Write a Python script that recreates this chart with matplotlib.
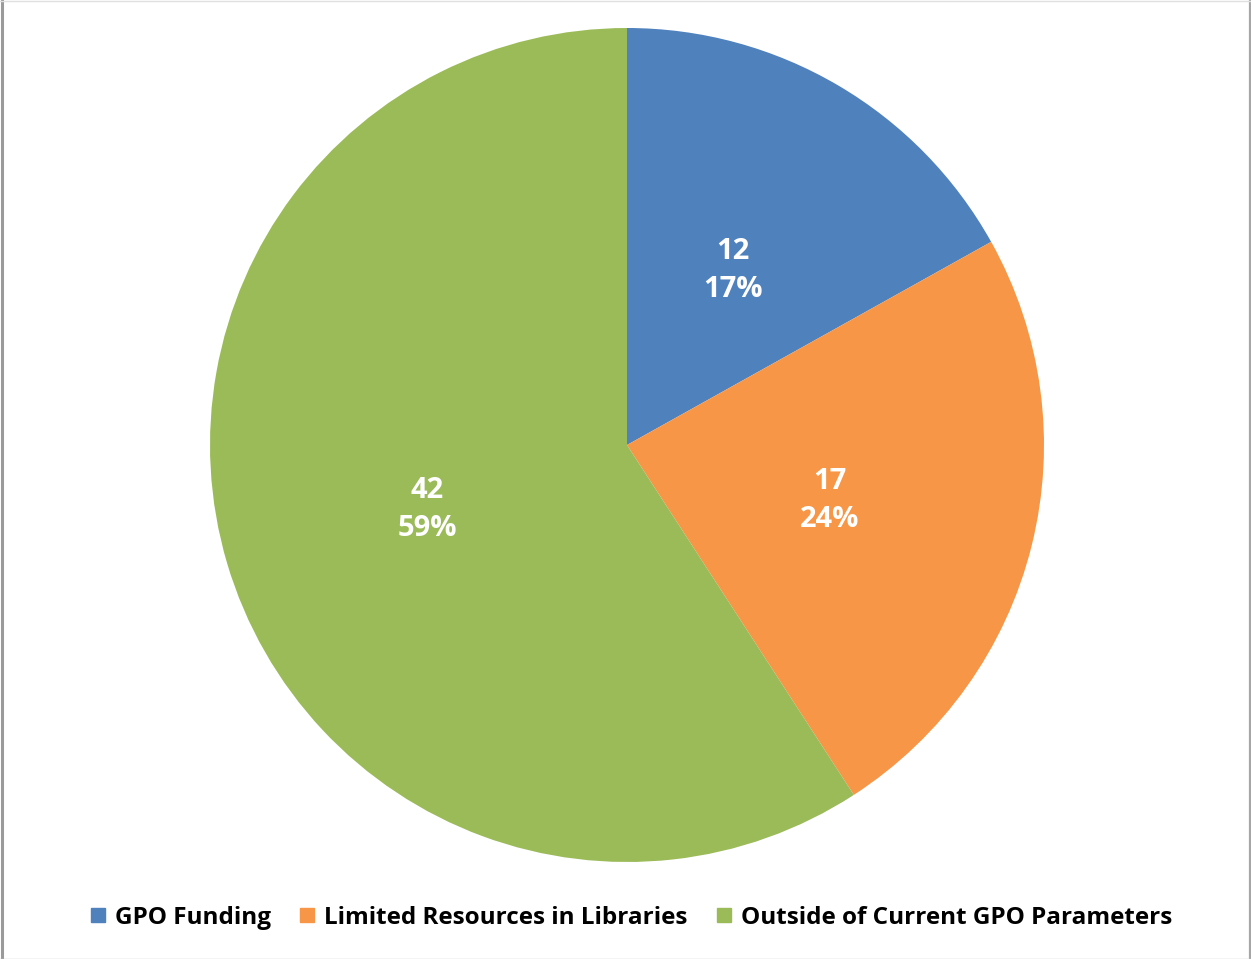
import matplotlib
matplotlib.use("Agg")
import matplotlib.pyplot as plt
from matplotlib.lines import Line2D

categories = ["GPO Funding", "Limited Resources in Libraries", "Outside of Current GPO Parameters"]
counts = [12, 17, 42]
colors = ["#4F81BD", "#F79646", "#9BBB59"]

FONT = ["Open Sans", "DejaVu Sans"]
plt.rcParams["font.family"] = FONT

W, H = 1251, 959
fig = plt.figure(figsize=(W / 100, H / 100), dpi=100)
fig.patch.set_facecolor("white")

# pie centred at (627, 445) px with radius 417 px
cx, cy, r = 627, 445, 417
ax = fig.add_axes([(cx - r) / W, (H - cy - r) / H, 2 * r / W, 2 * r / H])
total = sum(counts)


def fmt(pct):
    val = int(round(pct * total / 100.0))
    return f"{val}\n{pct:.0f}%"


wedges, texts, autotexts = ax.pie(
    counts, colors=colors, startangle=90, counterclock=False,
    autopct=fmt, pctdistance=0.5, radius=1.0,
    wedgeprops=dict(linewidth=0),
    textprops=dict(color="white", fontsize=21, fontweight="bold", linespacing=1.42),
)
# nudge the two-line labels down a little so the glyphs sit centred on the anchor
for t in autotexts:
    x, y = t.get_position()
    t.set_position((x, y - 0.012))

ax.set_xlim(-1, 1)
ax.set_ylim(-1, 1)
ax.set_aspect("equal")
ax.axis("off")

handles = [Line2D([0], [0], marker="s", linestyle="none", markersize=10,
                  markerfacecolor=c, markeredgecolor=c) for c in colors]
fig.legend(handles, categories, loc="center", bbox_to_anchor=(631 / W, 1 - 918 / H),
           ncol=3, frameon=False, prop=dict(family=FONT, size=17.5, weight="bold"),
           handlelength=0.7, handletextpad=0.35, columnspacing=1.15, labelcolor="#000000")

# outer frame of the chart area
fig.add_artist(Line2D([1.5 / W, 1.5 / W], [0, 1], color="#9A9A9A", linewidth=2.2))
fig.add_artist(Line2D([1 - 1.5 / W, 1 - 1.5 / W], [0, 1], color="#A6A6A6", linewidth=1.6))
fig.add_artist(Line2D([0, 1], [1 - 0.5 / H, 1 - 0.5 / H], color="#E0E0E0", linewidth=1.0))
fig.add_artist(Line2D([0, 1], [0.5 / H, 0.5 / H], color="#C8C8C8", linewidth=1.0))

fig.savefig("out.png", dpi=100, facecolor="white")
